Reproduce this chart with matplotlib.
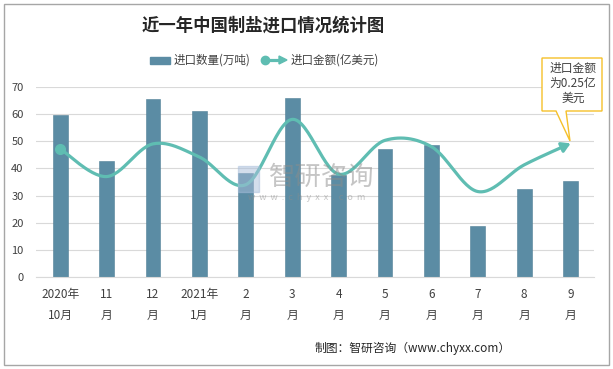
import numpy as np
import matplotlib.pyplot as plt
from matplotlib.patches import Rectangle, Polygon
from matplotlib.lines import Line2D

plt.rcParams['font.family'] = ['Noto Sans CJK SC', 'DejaVu Sans']

# 数据
months = ['2020年\n10月', '11\n月', '12\n月', '2021年\n1月', '2\n月', '3\n月',
          '4\n月', '5\n月', '6\n月', '7\n月', '8\n月', '9\n月']
qty = [59.7, 42.8, 65.5, 61.1, 38.2, 65.9, 37.5, 47.2, 48.6, 18.9, 32.5, 35.4]
amount = [47.2, 37.0, 49.0, 44.2, 34.0, 58.0, 37.9, 50.3, 48.0, 31.5, 41.3, 49.2]

bar_color = '#5b8ca4'
line_color = '#5fbdb2'
text_color = '#404040'

fig = plt.figure(figsize=(6.13, 3.69), dpi=100)
ax = fig.add_axes([0.0587, 0.2485, 0.91, 0.5165])

x = np.arange(len(months))
ax.bar(x, qty, width=0.32, color=bar_color, edgecolor='#527f96', linewidth=0.4, zorder=2)


# 平滑曲线（类似 Excel 的平滑线）
def smooth(xs, ys, n=30):
    p = np.column_stack([xs, ys]).astype(float)
    p = np.vstack([p[0], p, p[-1]])
    out = []
    for i in range(1, len(p) - 2):
        p0, p1, p2, p3 = p[i - 1], p[i], p[i + 1], p[i + 2]
        b1 = p1 + (p2 - p0) / 6
        b2 = p2 - (p3 - p1) / 6
        t = np.linspace(0, 1, n)[:, None]
        seg = (1 - t) ** 3 * p1 + 3 * (1 - t) ** 2 * t * b1 + 3 * (1 - t) * t ** 2 * b2 + t ** 3 * p2
        out.append(seg if i == 1 else seg[1:])
    return np.vstack(out)


curve = smooth(x, amount)
ax.plot(curve[:-3, 0], curve[:-3, 1], color=line_color, lw=2.3, zorder=3, solid_capstyle='round')
ax.annotate('', xy=(x[-1], amount[-1]), xytext=(curve[-6, 0], curve[-6, 1]),
            arrowprops=dict(arrowstyle='-|>,head_length=0.5,head_width=0.3',
                            color=line_color, lw=2.3, shrinkA=0, shrinkB=0), zorder=4)
ax.plot(x[0], amount[0], 'o', color=line_color, ms=7, zorder=4)

ax.set_xlim(-0.52, 11.5)
ax.set_ylim(0, 70)
ax.set_yticks(range(0, 71, 10))
ax.set_xticks(x)
ax.set_xticklabels(months, fontsize=8.5, color=text_color, linespacing=1.75)
ax.tick_params(axis='x', length=0, pad=8)
ax.tick_params(axis='y', length=0, pad=9, labelsize=8, labelcolor=text_color)
ax.grid(axis='y', color='#d9d9d9', lw=0.8, zorder=0)
ax.set_axisbelow(True)
for s in ['top', 'right', 'left']:
    ax.spines[s].set_visible(False)
ax.spines['bottom'].set_color('#d9d9d9')

# 标题
fig.text(263 / 613, 1 - 26 / 369, '近一年中国制盐进口情况统计图', ha='center', va='center',
         fontsize=12.5, fontweight='bold', color='#262626')

# 图例
fig.patches.append(Rectangle((150 / 613, 1 - 64 / 369), 20 / 613, 7 / 369,
                             transform=fig.transFigure, color=bar_color))
fig.text(174 / 613, 1 - 60 / 369, '进口数量(万吨)', fontsize=8.3, va='center', color=text_color)
fig.lines.append(Line2D([265 / 613, 280 / 613], [1 - 60 / 369] * 2, transform=fig.transFigure,
                        color=line_color, lw=2.3))
fig.lines.append(Line2D([265 / 613], [1 - 60 / 369], transform=fig.transFigure,
                        marker='o', ms=6, color=line_color))
fig.patches.append(Polygon([[279 / 613, 1 - 56 / 369], [287 / 613, 1 - 60 / 369], [279 / 613, 1 - 64 / 369]],
                           closed=True, transform=fig.transFigure, color=line_color))
fig.text(291 / 613, 1 - 60 / 369, '进口金额(亿美元)', fontsize=8.3, va='center', color=text_color)

# 标注
fig.patches.append(Polygon([[542 / 613, 1 - 58 / 369], [602 / 613, 1 - 58 / 369], [602 / 613, 1 - 111 / 369],
                            [566 / 613, 1 - 111 / 369], [570 / 613, 1 - 141 / 369],
                            [556 / 613, 1 - 111 / 369], [542 / 613, 1 - 111 / 369]],
                           closed=True, transform=fig.transFigure, facecolor='white',
                           edgecolor='#f5c02a', lw=1, zorder=5))
fig.text(573 / 613, 1 - 83 / 369, '进口金额\n为0.25亿\n美元', ha='center', va='center',
         fontsize=8.5, color=text_color, linespacing=1.2, zorder=6)

# 水印
fig.text(322 / 613, 1 - 177 / 369, '智研咨询', ha='center', va='center', fontsize=19,
         color='#8c8c8c', alpha=0.5, zorder=10)
fig.text(307 / 613, 1 - 197 / 369, 'w  w  w  .  c  h  y  x  x  .  c  o  m', ha='center', va='center',
         fontsize=6.5, color='#8c8c8c', alpha=0.5, zorder=10)
fig.patches.append(Rectangle((238 / 613, 1 - 192 / 369), 21 / 613, 26 / 369,
                             transform=fig.transFigure, color='#a9bedb', alpha=0.5, zorder=10))

# 来源
fig.text(511 / 613, 1 - 348 / 369, '制图：智研咨询（www.chyxx.com）', ha='right', va='center',
         fontsize=8.5, color='#262626')

# 边框
fig.patches.append(Rectangle((4 / 613, 4 / 369), 605 / 613, 361 / 369, transform=fig.transFigure,
                             fill=False, edgecolor='#a6a6a6', lw=1))

fig.savefig('out.png', dpi=100)
